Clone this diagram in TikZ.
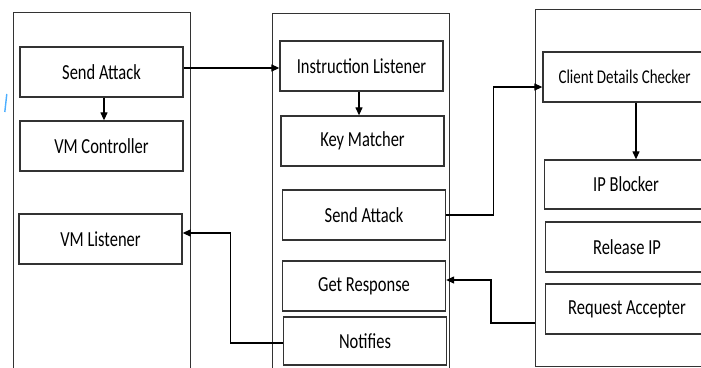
\documentclass[tikz,border=0pt]{standalone}
\usepackage{fontspec}
\usepackage{graphicx}
\setmainfont{Carlito}
\usetikzlibrary{arrows.meta}
\newcommand{\tx}[1]{\scalebox{1}[1.3]{#1}}
\begin{document}
\begin{tikzpicture}[x=1pt,y=-1pt,
  box/.style={draw=black!80,line width=1.3pt,minimum width=163pt,minimum height=50pt,inner sep=0pt,fill=white,font=\fontsize{16.5}{18}\selectfont},
  cont/.style={draw=black!80,line width=1.2pt,inner sep=0pt},
  arr/.style={draw=black,line width=1.2pt,-{Triangle[length=8pt,width=7pt]}}]
\useasboundingbox (0,0) rectangle (701,367);
\clip (0,0) rectangle (701,367);
\fill[white] (0,0) rectangle (701,367);
% containers
\node[cont,minimum width=177pt,minimum height=400pt,anchor=north west] (lc) at (13,12) {};
\node[cont,minimum width=177pt,minimum height=400pt,anchor=north west] (mc) at (272,13) {};
\node[cont,minimum width=225pt,minimum height=357pt,anchor=north west] (rc) at (535,9) {};
% left boxes
\node[box] (sa1) at (101.5,72) {\tx{Send Attack}};
\node[box] (vmc) at (101.5,146) {\tx{VM Controller}};
\node[box] (vml) at (100.5,239) {\tx{VM Listener}};
% middle boxes
\node[box] (il) at (361.5,66) {\tx{Instruction Listener}};
\node[box] (km) at (362.5,141) {\tx{Key Matcher}};
\node[box] (sa2) at (364,215) {\tx{Send Attack}};
\node[box] (gr) at (364,286) {\tx{Get Response}};
\node[box,minimum height=48pt] (nt) at (365,341) {\tx{Notifies}};
% right boxes
\node[box,font=\fontsize{15}{17}\selectfont] (cdc) at (624.5,77) {\tx{Client Details Checker}};
\node[box,minimum height=49pt] (ipb) at (626,184.5) {\tx{IP Blocker}};
\node[box] (rip) at (627,247) {\tx{Release IP}};
\node[box] (ra) at (627,309) {\tx{Request Accepter}};
% internal arrows
\draw[arr] ([xshift=2.5pt]sa1.south) -- ([xshift=2.5pt]sa1.south |- vmc.north);
\draw[arr] ([xshift=-2.5pt]il.south) -- ([xshift=-2.5pt]il.south |- km.north);
\draw[arr] ([xshift=11.5pt]cdc.south) -- ([xshift=11.5pt]cdc.south |- ipb.north);
% cross connectors
\draw[arr] ([yshift=4pt]sa1.east) -- ([yshift=4pt]sa1.east -| il.west);
\draw[arr] (sa2.east) -- ++(47pt,0) |- ([yshift=-10pt]cdc.west);
\coordinate (raout) at ([yshift=-14pt]ra.west);
\draw[arr] (rc.west |- raout) -- ++(-44pt,0) |- ([yshift=6pt]gr.east);
\draw[arr] ([yshift=-2pt]nt.west) -- ++(-52pt,0) |- ([yshift=6pt]vml.east);
% small blue mark
\draw[blue!45!cyan!70,line width=1.4pt] (6.8,94) -- (4.8,112);
\end{tikzpicture}
\end{document}
